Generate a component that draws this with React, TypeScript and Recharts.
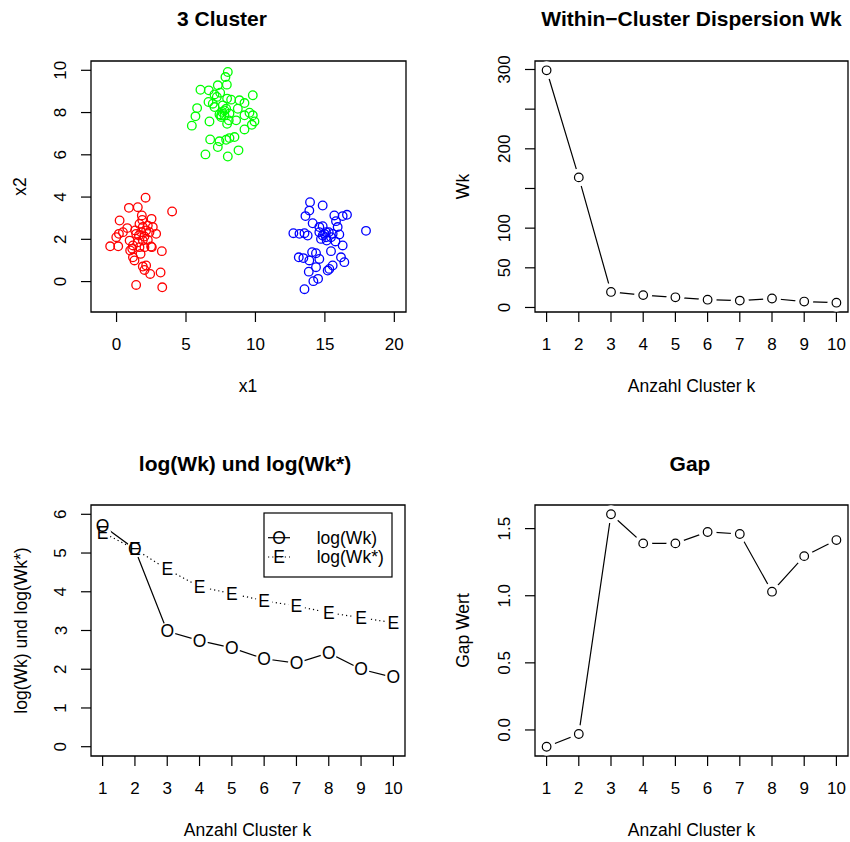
import React from 'react';
import { ComposedChart, ScatterChart, Scatter, Line, XAxis, YAxis, ReferenceArea } from 'recharts';

const FONT = '"Liberation Sans", Arial, Helvetica, sans-serif';

// simulated clusters
const redX = [2.09, 0.89, 1.53, 4.0, 0.22, 1.82, 2.52, 1.85, 1.65, 2.61, 0.77, 0.17, 0.46, -0.02, 1.34, 1.77, 2.13, 2.37, 2.85, 1.61, 2.01, 0.94, -0.46, 0.12, 1.18, 1.53, 1.89, 2.25, 2.49, 1.13, 0.98, 1.65, 2.01, 2.54, 3.26, 1.73, 1.18, 1.29, 1.89, 2.13, 2.01, 2.42, 3.17, 1.41, 3.29, 1.89, 1.41, 2.25];
const redY = [3.97, 3.49, 3.52, 3.32, 2.89, 3.13, 2.97, 2.92, 2.73, 2.58, 2.53, 2.26, 2.34, 2.1, 2.42, 2.34, 2.42, 2.34, 2.26, 2.18, 2.13, 1.94, 1.67, 1.67, 1.71, 1.86, 1.94, 1.97, 1.66, 1.55, 1.47, 1.63, 1.63, 1.63, 1.44, 1.31, 1.15, 1.0, 0.71, 0.76, 0.55, 0.36, 0.43, -0.16, -0.27, 2.58, 2.26, 2.65];
const greenX = [8.01, 7.84, 7.29, 7.94, 6.04, 6.64, 7.46, 7.05, 9.81, 7.22, 7.96, 8.25, 8.85, 6.62, 9.21, 6.93, 7.65, 8.73, 5.8, 7.89, 7.05, 7.6, 7.77, 9.57, 7.41, 8.13, 9.21, 9.81, 5.68, 7.53, 6.69, 8.08, 8.61, 9.93, 9.74, 5.42, 7.96, 9.21, 8.49, 8.13, 7.89, 7.41, 6.74, 7.29, 8.78, 6.4, 8.01, 7.53, 7.77];
const greenY = [9.92, 9.68, 9.29, 9.32, 9.08, 9.05, 8.94, 8.86, 8.82, 8.74, 8.66, 8.61, 8.58, 8.5, 8.45, 8.42, 8.34, 8.18, 8.21, 8.18, 8.26, 8.03, 8.1, 7.99, 7.91, 7.95, 7.87, 7.87, 7.82, 7.79, 7.58, 7.63, 7.63, 7.58, 7.42, 7.38, 7.47, 7.2, 6.84, 6.79, 6.71, 6.64, 6.73, 6.37, 6.21, 6.02, 5.92, 7.87, 7.87];
const blueX = [13.93, 14.84, 13.88, 13.6, 15.68, 16.28, 16.59, 14.12, 15.8, 15.92, 14.84, 14.6, 12.73, 13.17, 13.53, 13.76, 14.6, 14.96, 15.28, 15.56, 16.04, 17.96, 14.72, 15.08, 15.76, 16.28, 14.08, 14.36, 15.44, 13.12, 13.45, 13.88, 14.6, 16.16, 16.4, 15.56, 14.36, 15.2, 15.32, 13.84, 14.17, 14.51, 13.53, 15.08, 15.44, 14.84, 15.13];
const blueY = [3.76, 3.6, 3.36, 3.1, 3.13, 3.1, 3.16, 2.76, 2.86, 2.58, 2.62, 2.58, 2.29, 2.26, 2.29, 2.18, 2.34, 2.26, 2.34, 2.26, 2.23, 2.4, 2.02, 2.1, 1.9, 1.71, 1.39, 1.34, 1.44, 1.15, 1.11, 1.0, 1.07, 1.15, 0.92, 0.76, 0.68, 0.52, 0.6, 0.47, 0.02, 0.13, -0.36, 2.34, 2.1, 2.18, 1.94];

// gap statistic results per k
const clusterK = [1, 2, 3, 4, 5, 6, 7, 8, 9, 10];
const wk = [299, 164, 19.6, 15.6, 12.8, 9.8, 8.7, 11.3, 7.5, 6.0];
const logWk = [5.71, 5.1, 2.98, 2.74, 2.55, 2.27, 2.16, 2.42, 2.0, 1.79];
const logWkStar = [5.53, 5.1, 4.58, 4.13, 3.95, 3.77, 3.63, 3.46, 3.33, 3.2];
const gapValues = [-0.125, -0.03, 1.607, 1.39, 1.39, 1.475, 1.46, 1.03, 1.295, 1.415];

const scatterXTicks = [0, 5, 10, 15, 20];
const scatterYTicks = [0, 2, 4, 6, 8, 10];
const wkTicks = [0, 50, 100, 150, 200, 250, 300];
const wkTickLabels = [0, 50, 100, 200, 300];
const logTicks = [0, 1, 2, 3, 4, 5, 6];
const gapTicks = [0, 0.5, 1, 1.5];

const pts = (xs: number[], ys: number[]) => xs.map((x, i) => ({ x, y: ys[i] }));
const kRows = clusterK.map((k, i) => ({ k, wk: wk[i], logWk: logWk[i], logWkStar: logWkStar[i], gap: gapValues[i] }));

const AXIS_W = 50, AXIS_H = 50;
const PAD_L = 100, PAD_R = 20, PAD_T = 40, PAD_B = 90;
const K_DOMAIN = [0.64, 10.36];

type Box = { x: number; y: number; w: number; h: number };

function frame(box: Box) {
  return {
    pos: { position: 'absolute' as const, left: box.x - PAD_L, top: box.y - PAD_T },
    width: box.w + PAD_L + PAD_R,
    height: box.h + PAD_T + PAD_B,
    margin: { top: PAD_T, right: PAD_R, bottom: PAD_B - AXIS_H, left: PAD_L - AXIS_W },
  };
}

const XTick = ({ x, y, payload }: any) => (
  <text x={x} y={y + 22.5} textAnchor="middle" dominantBaseline="central" fontSize={17} fontFamily={FONT} fill="#000">
    {payload.value}
  </text>
);

const makeYTick = (fmt: (v: number) => string, show?: number[]) => ({ x, y, payload }: any) => {
  if (show && !show.includes(payload.value)) return <g />;
  const cx = x - 20;
  return (
    <text x={cx} y={y} transform={`rotate(-90 ${cx} ${y})`} textAnchor="middle" dominantBaseline="central" fontSize={17} fontFamily={FONT} fill="#000">
      {fmt(payload.value)}
    </text>
  );
};

const tickStroke = { stroke: '#000', strokeWidth: 1.2 };

const ring = (color: string) => (p: any) => (
  <circle cx={p.cx} cy={p.cy} r={4.3} fill="none" stroke={color} strokeWidth={1.3} />
);

// open circle with a white gap around it, like R's type = "b"
const ringDot = (p: any) => (
  <g key={`r${p.index}`}>
    <circle cx={p.cx} cy={p.cy} r={9} fill="#fff" />
    <circle cx={p.cx} cy={p.cy} r={4.3} fill="none" stroke="#000" strokeWidth={1.2} />
  </g>
);
const haloDot = (p: any) => <circle key={`h${p.index}`} cx={p.cx} cy={p.cy} r={8.5} fill="#fff" />;
const glyphDot = (ch: string) => (p: any) => (
  <text key={`${ch}${p.index}`} x={p.cx} y={p.cy} textAnchor="middle" dominantBaseline="central" fontSize={17.5} fontFamily={FONT} fill="#000">
    {ch}
  </text>
);

function ClusterPanel() {
  const box = { x: 91, y: 61, w: 315, h: 251 };
  const f = frame(box);
  const xd = [-1.84, 20.84], yd = [-1.44, 10.44];
  return (
    <div style={f.pos}>
      <ScatterChart width={f.width} height={f.height} margin={f.margin}>
        <XAxis type="number" dataKey="x" domain={xd} allowDataOverflow ticks={scatterXTicks} interval={0} height={AXIS_H} axisLine={false} tickLine={tickStroke} tickSize={10} tickMargin={0} tick={<XTick />} />
        <YAxis type="number" dataKey="y" domain={yd} allowDataOverflow ticks={scatterYTicks} interval={0} width={AXIS_W} axisLine={false} tickLine={tickStroke} tickSize={10} tickMargin={0} tick={makeYTick(String)} />
        <Scatter data={pts(redX, redY)} shape={ring('#FF0000')} isAnimationActive={false} />
        <Scatter data={pts(greenX, greenY)} shape={ring('#00FF00')} isAnimationActive={false} />
        <Scatter data={pts(blueX, blueY)} shape={ring('#0000FF')} isAnimationActive={false} />
        <ReferenceArea x1={xd[0]} x2={xd[1]} y1={yd[0]} y2={yd[1]} fill="none" fillOpacity={0} stroke="#000" strokeWidth={1.3} ifOverflow="visible" />
      </ScatterChart>
    </div>
  );
}

function KPanel({ box, yDomain, yTicks, yTick, children }: any) {
  const f = frame(box);
  return (
    <div style={f.pos}>
      <ComposedChart width={f.width} height={f.height} margin={f.margin} data={kRows}>
        <XAxis type="number" dataKey="k" domain={K_DOMAIN} allowDataOverflow ticks={clusterK} interval={0} height={AXIS_H} axisLine={false} tickLine={tickStroke} tickSize={10} tickMargin={0} tick={<XTick />} />
        <YAxis type="number" domain={yDomain} allowDataOverflow ticks={yTicks} interval={0} width={AXIS_W} axisLine={false} tickLine={tickStroke} tickSize={10} tickMargin={0} tick={yTick} />
        {children}
        <ReferenceArea x1={K_DOMAIN[0]} x2={K_DOMAIN[1]} y1={yDomain[0]} y2={yDomain[1]} fill="none" fillOpacity={0} stroke="#000" strokeWidth={1.3} ifOverflow="visible" />
      </ComposedChart>
    </div>
  );
}

function Overlay() {
  const t = (x: number, y: number, s: string, opts: { bold?: boolean; rot?: boolean; size?: number } = {}) => (
    <text
      key={s + x + y}
      x={x}
      y={y}
      transform={opts.rot ? `rotate(-90 ${x} ${y})` : undefined}
      textAnchor="middle"
      dominantBaseline="central"
      fontSize={opts.size ?? (opts.bold ? 21 : 17.5)}
      fontWeight={opts.bold ? 'bold' : 'normal'}
      fontFamily={FONT}
      fill="#000"
    >
      {s}
    </text>
  );
  return (
    <svg width={850} height={842} style={{ position: 'absolute', left: 0, top: 0, pointerEvents: 'none' }}>
      {t(222, 18, '3 Cluster', { bold: true })}
      {t(691.5, 18, 'Within\u2212Cluster Dispersion Wk', { bold: true })}
      {t(245, 463, 'log(Wk) und log(Wk*)', { bold: true })}
      {t(690, 463, 'Gap', { bold: true })}
      {t(248, 386, 'x1')}
      {t(691.5, 386, 'Anzahl Cluster k')}
      {t(247.5, 830, 'Anzahl Cluster k')}
      {t(691.5, 830, 'Anzahl Cluster k')}
      {t(20, 186.5, 'x2', { rot: true })}
      {t(463, 186.5, 'Wk', { rot: true })}
      {t(21, 630.5, 'log(Wk) und log(Wk*)', { rot: true })}
      {t(463, 630.5, 'Gap Wert', { rot: true })}
      {/* legend of the log panel */}
      <g transform="translate(264,513)">
        <rect x={0} y={0} width={128} height={64} fill="#fff" stroke="#000" strokeWidth={1.2} />
        <line x1={4} x2={26} y1={24.7} y2={24.7} stroke="#000" strokeWidth={1.2} />
        <text x={15} y={24.7} textAnchor="middle" dominantBaseline="central" fontSize={17.5} fontFamily={FONT}>O</text>
        <text x={52.7} y={24.7} dominantBaseline="central" fontSize={17.5} fontFamily={FONT}>log(Wk)</text>
        <line x1={4} x2={26} y1={44} y2={44} stroke="#000" strokeWidth={1.2} strokeDasharray="1.2 3" />
        <text x={15} y={44} textAnchor="middle" dominantBaseline="central" fontSize={17.5} fontFamily={FONT}>E</text>
        <text x={52.7} y={44} dominantBaseline="central" fontSize={17.5} fontFamily={FONT}>log(Wk*)</text>
      </g>
    </svg>
  );
}

export default function App() {
  return (
    <div style={{ position: 'absolute', left: 0, top: 0, width: 850, height: 842, overflow: 'hidden', background: '#fff', fontFamily: FONT }}>
      <ClusterPanel />
      <KPanel box={{ x: 535, y: 61, w: 313, h: 251 }} yDomain={[-5.7, 310.7]} yTicks={wkTicks} yTick={makeYTick(String, wkTickLabels)}>
        <Line dataKey="wk" stroke="#000" strokeWidth={1.2} dot={ringDot} activeDot={false} isAnimationActive={false} />
      </KPanel>
      <KPanel box={{ x: 90.5, y: 505, w: 314, h: 251 }} yDomain={[-0.24, 6.24]} yTicks={logTicks} yTick={makeYTick(String)}>
        <Line dataKey="logWkStar" stroke="#000" strokeWidth={1.2} strokeDasharray="1.2 3" dot={haloDot} activeDot={false} isAnimationActive={false} />
        <Line dataKey="logWk" stroke="#000" strokeWidth={1.2} dot={haloDot} activeDot={false} isAnimationActive={false} />
        <Line dataKey="logWkStar" stroke="none" dot={glyphDot('E')} activeDot={false} isAnimationActive={false} />
        <Line dataKey="logWk" stroke="none" dot={glyphDot('O')} activeDot={false} isAnimationActive={false} />
      </KPanel>
      <KPanel box={{ x: 535, y: 505, w: 313, h: 251 }} yDomain={[-0.194, 1.676]} yTicks={gapTicks} yTick={makeYTick((v) => v.toFixed(1))}>
        <Line dataKey="gap" stroke="#000" strokeWidth={1.2} dot={ringDot} activeDot={false} isAnimationActive={false} />
      </KPanel>
      <Overlay />
    </div>
  );
}
